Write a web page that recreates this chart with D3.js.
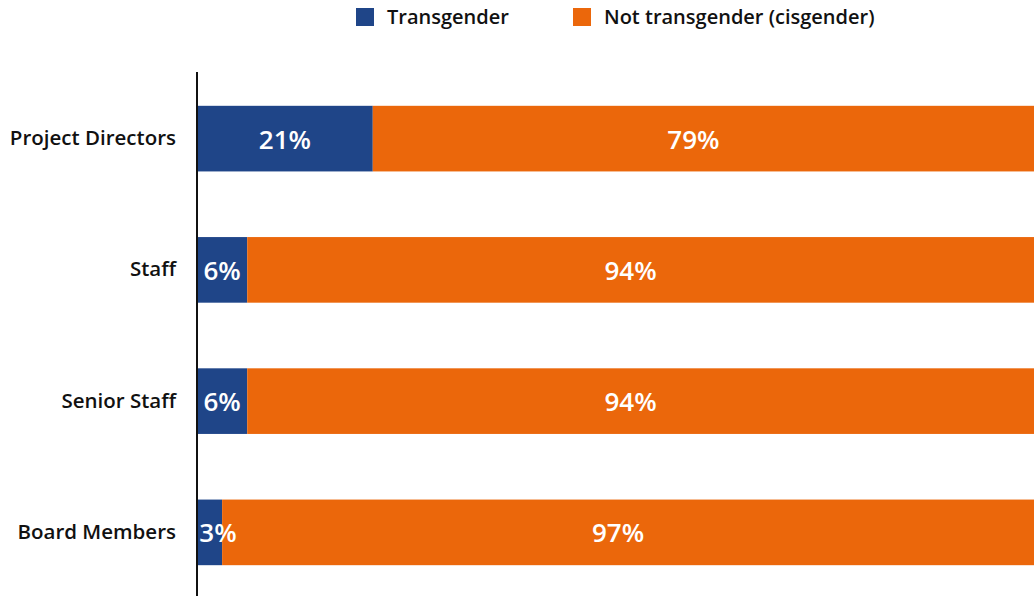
<!DOCTYPE html>
<html>
<head>
<meta charset="utf-8">
<script src="https://cdn.jsdelivr.net/npm/d3@7"></script>
<style>
  body { margin: 0; background: #fff; }
  text { font-family: "Open Sans", Roboto, sans-serif; font-weight: 600; }
</style>
</head>
<body>
<script>
// data
const categories = ["Project Directors", "Staff", "Senior Staff", "Board Members"]
const transgender = [21, 6, 6, 3]
const cisgender = [79, 94, 94, 97]
const seriesNames = ["Transgender", "Not transgender (cisgender)"]
const colors = ["#1f4588", "#eb670b"]

const width = 1034, height = 596

let svg = d3.select("body").append("svg")
    .attr("width", width)
    .attr("height", height)

let x = d3.scaleLinear().domain([0, 100]).range([197, width])
let y = d3.scaleBand().domain(categories).range([73, 598]).paddingInner(0.5).paddingOuter(0.25)

let rows = categories.map((c, i) => ({ cat: c, t: transgender[i], c: cisgender[i] }))

// blue part
svg.selectAll("rect.trans")
    .data(rows)
    .enter()
    .append("rect")
    .attr("class", "trans")
    .attr("x", x(0))
    .attr("y", d => y(d.cat))
    .attr("width", d => x(d.t) - x(0))
    .attr("height", y.bandwidth())
    .attr("fill", colors[0])

// orange part
svg.selectAll("rect.cis")
    .data(rows)
    .enter()
    .append("rect")
    .attr("class", "cis")
    .attr("x", d => x(d.t))
    .attr("y", d => y(d.cat))
    .attr("width", d => x(d.t + d.c) - x(d.t))
    .attr("height", y.bandwidth())
    .attr("fill", colors[1])

// value labels
svg.selectAll("text.tval")
    .data(rows)
    .enter()
    .append("text")
    .attr("x", d => Math.max((x(0) + x(d.t)) / 2, x(0) + 21))
    .attr("y", d => y(d.cat) + y.bandwidth() / 2)
    .attr("dy", "0.38em")
    .attr("text-anchor", "middle")
    .attr("fill", "white")
    .attr("font-size", 26)
    .text(d => d.t + "%")

svg.selectAll("text.cval")
    .data(rows)
    .enter()
    .append("text")
    .attr("x", d => (x(d.t) + x(d.t + d.c)) / 2 - 10)
    .attr("y", d => y(d.cat) + y.bandwidth() / 2)
    .attr("dy", "0.38em")
    .attr("text-anchor", "middle")
    .attr("fill", "white")
    .attr("font-size", 26)
    .text(d => d.c + "%")

// category axis
let yAxis = svg.append("g")
    .attr("transform", "translate(" + x(0) + ",0)")
    .call(d3.axisLeft(y).tickSize(0).tickPadding(21))
yAxis.select(".domain").attr("stroke", "#111").attr("stroke-width", 2).attr("d", "M0,72V596")
yAxis.selectAll("text")
    .attr("font-size", 20.5)
    .attr("fill", "#111")
    .attr("font-family", "'Open Sans', sans-serif")
    .attr("font-weight", 600)

// legend
const legendX = [356, 573]
let legend = svg.selectAll("g.legend")
    .data(seriesNames)
    .enter()
    .append("g")
    .attr("transform", (d, i) => "translate(" + legendX[i] + ",8)")
legend.append("rect")
    .attr("width", 18)
    .attr("height", 18)
    .attr("fill", (d, i) => colors[i])
legend.append("text")
    .attr("x", 31)
    .attr("y", 9)
    .attr("dy", "0.36em")
    .attr("font-size", 20)
    .attr("fill", "#111")
    .text(d => d)
</script>
</body>
</html>
